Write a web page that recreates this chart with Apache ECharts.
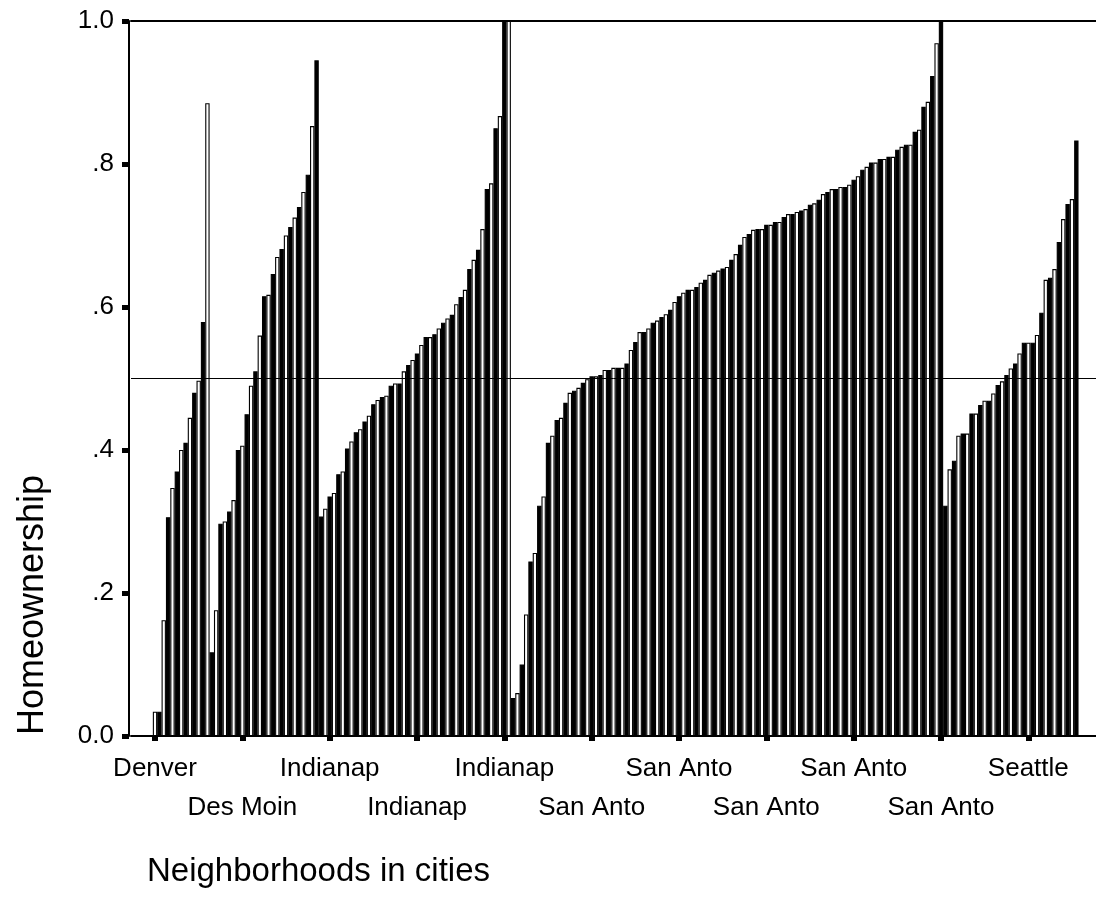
<!DOCTYPE html>
<html><head><meta charset="utf-8">
<script src="https://cdn.jsdelivr.net/npm/echarts@6/dist/echarts.min.js"></script>
<style>html,body{margin:0;padding:0;background:#fff}#c{width:1096px;height:919px}</style>
</head><body><div id="c"></div>
<script>
// ---- data ----
const cityLabels = ['Denver', 'Des Moin', 'Indianap', 'San Anto', 'Seattle'];
const denver = [0.034, 0.034, 0.162, 0.306, 0.347, 0.37, 0.40, 0.41, 0.445, 0.48, 0.497, 0.579, 0.885];
const desMoines = [0.117, 0.176, 0.297, 0.30, 0.314, 0.33, 0.40, 0.406, 0.45, 0.49, 0.51, 0.56, 0.615, 0.617, 0.646, 0.67, 0.681, 0.70, 0.712, 0.725, 0.74, 0.761, 0.785, 0.853, 0.945];
const indianapolis = [0.307, 0.318, 0.335, 0.340, 0.366, 0.370, 0.402, 0.412, 0.425, 0.429, 0.440, 0.448, 0.464, 0.470, 0.474, 0.476, 0.490, 0.493, 0.493, 0.51, 0.519, 0.526, 0.535, 0.547, 0.558, 0.558, 0.562, 0.570, 0.578, 0.584, 0.589, 0.604, 0.614, 0.624, 0.653, 0.666, 0.68, 0.709, 0.765, 0.773, 0.85, 0.867, 1.0, 1.0];
const sanAntonio = [0.053, 0.06, 0.10, 0.17, 0.244, 0.256, 0.322, 0.335, 0.41, 0.42, 0.442, 0.445, 0.466, 0.48, 0.483, 0.487, 0.494, 0.499, 0.503, 0.503, 0.505, 0.512, 0.512, 0.515, 0.515, 0.515, 0.521, 0.54, 0.551, 0.565, 0.565, 0.57, 0.578, 0.581, 0.586, 0.59, 0.596, 0.607, 0.615, 0.62, 0.624, 0.624, 0.628, 0.634, 0.638, 0.645, 0.648, 0.651, 0.654, 0.656, 0.666, 0.674, 0.687, 0.698, 0.702, 0.708, 0.709, 0.709, 0.715, 0.715, 0.719, 0.719, 0.726, 0.73, 0.73, 0.733, 0.735, 0.737, 0.743, 0.745, 0.75, 0.758, 0.761, 0.765, 0.765, 0.768, 0.768, 0.771, 0.778, 0.783, 0.792, 0.796, 0.802, 0.802, 0.807, 0.807, 0.81, 0.81, 0.82, 0.824, 0.827, 0.827, 0.845, 0.848, 0.88, 0.887, 0.923, 0.969, 1.0];
const seattle = [0.322, 0.373, 0.385, 0.42, 0.423, 0.423, 0.451, 0.451, 0.463, 0.469, 0.469, 0.479, 0.491, 0.496, 0.505, 0.514, 0.521, 0.535, 0.55, 0.55, 0.55, 0.561, 0.592, 0.638, 0.641, 0.653, 0.691, 0.723, 0.744, 0.751, 0.833];
const yTicks = [0, 0.2, 0.4, 0.6, 0.8, 1.0];
const yTickLabels = ['0.0', '.2', '.4', '.6', '.8', '1.0'];
const referenceValue = 0.5;
const xTitle = 'Neighborhoods in cities';
const yTitle = 'Homeownership';

// ---- build category axis ----
const segments = [denver, desMoines, indianapolis, sanAntonio, seattle];
const darkParity = [1, 1, 0, 0, 1];   // rendering texture of the original: every other bar looks solid
const labelEvery = 20;   // one label every 20 neighbourhoods
const padStart = 5, padEnd = 4;  // empty space inside the frame
const cats = [], vals = [], segOf = [];
for (let i = 0; i < padStart; i++) { cats.push(''); vals.push('-'); segOf.push(-1); }
segments.forEach((seg, s) => seg.forEach(v => { cats.push(cityLabels[s]); vals.push(v); segOf.push(s); }));
for (let i = 0; i < padEnd; i++) { cats.push(''); vals.push('-'); segOf.push(-1); }
const labelNo = idx => (idx >= padStart && idx < cats.length - padEnd && (idx - padStart) % labelEvery === 0) ? (idx - padStart) / labelEvery : -1;
const isRow1 = idx => { const k = labelNo(idx); return k >= 0 && k % 2 === 0; };
const isRow2 = idx => { const k = labelNo(idx); return k >= 0 && k % 2 === 1; };

const FONT = '"Liberation Sans", Arial, sans-serif';
const gridLeft = 131;
const barW = 4.375;
const labelStyle = { color: '#000', fontFamily: FONT, fontSize: 26, lineHeight: 39, showMinLabel: true, showMaxLabel: true, hideOverlap: false };
const tickStyle = { show: true, alignWithLabel: true, length: 5, lineStyle: { color: '#000', width: 6 } };
const chart = echarts.init(document.getElementById('c'));
chart.setOption({
  animation: false,
  backgroundColor: '#fff',
  grid: { left: gridLeft, top: 21, width: barW * cats.length, bottom: 919 - 736, containLabel: false },
  xAxis: [{
    type: 'category', data: cats, boundaryGap: true, position: 'bottom',
    axisLine: { lineStyle: { color: '#000', width: 2 } },
    axisTick: Object.assign({ interval: isRow1 }, tickStyle),
    axisLabel: Object.assign({ interval: isRow1, margin: 13 }, labelStyle),
    splitLine: { show: false }
  }, {
    type: 'category', data: cats, position: 'top',
    axisLine: { lineStyle: { color: '#000', width: 2 } },
    axisTick: { show: false }, axisLabel: { show: false }, splitLine: { show: false }
  }, {
    type: 'category', data: cats, boundaryGap: true, position: 'bottom',
    axisLine: { show: false },
    axisTick: Object.assign({ interval: isRow2 }, tickStyle),
    axisLabel: Object.assign({ interval: isRow2, margin: 52 }, labelStyle),
    splitLine: { show: false }
  }],
  yAxis: {
    type: 'value', min: 0, max: 1, interval: 0.2, offset: gridLeft - 129,
    axisLine: { show: true, lineStyle: { color: '#000', width: 2 } },
    axisTick: { show: true, length: 7, lineStyle: { color: '#000', width: 5 } },
    axisLabel: { color: '#000', fontFamily: FONT, fontSize: 26, margin: 15,
      formatter: v => { const k = yTicks.findIndex(t => Math.abs(t - v) < 1e-9); return k >= 0 ? yTickLabels[k] : ''; } },
    splitLine: { show: false }
  },
  series: [{
    type: 'bar', data: vals, barCategoryGap: '0%', xAxisIndex: 0,
    itemStyle: {
      color: p => { const s = segOf[p.dataIndex]; return (p.dataIndex - padStart) % 2 === darkParity[s] ? '#000' : '#fff'; },
      borderColor: '#000', borderWidth: 1.1
    },
    markLine: { silent: true, symbol: 'none', label: { show: false },
      lineStyle: { color: '#000', width: 1, type: 'solid' }, data: [{ yAxis: referenceValue }] }
  }],
  graphic: [
    { type: 'text', left: 147, top: 855, style: { text: xTitle, font: '33px ' + FONT, fill: '#000' } },
    { type: 'text', x: 33, y: 605, rotation: Math.PI / 2, style: { text: yTitle, font: '36px ' + FONT, fill: '#000', align: 'center', verticalAlign: 'middle' } }
  ]
});
</script></body></html>
